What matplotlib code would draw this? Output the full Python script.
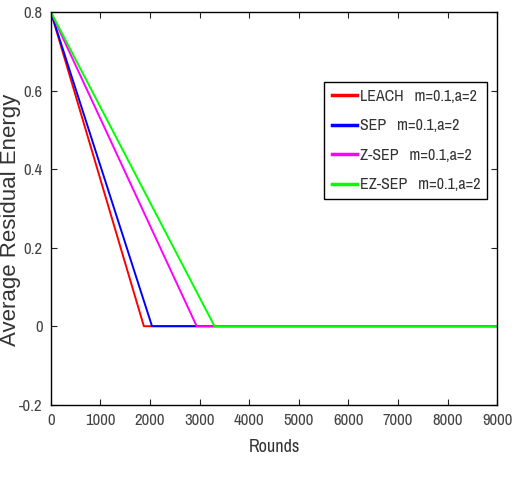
import matplotlib.pyplot as plt
import matplotlib.ticker as mticker

# data
rounds_leach = [0, 1875, 9000]
energy_leach = [0.8, 0.0, 0.0]
rounds_sep = [0, 2040, 9000]
energy_sep = [0.8, 0.0, 0.0]
rounds_zsep = [0, 2940, 9000]
energy_zsep = [0.8, 0.0, 0.0]
rounds_ezsep = [0, 3300, 9000]
energy_ezsep = [0.8, 0.0, 0.0]
labels = ['LEACH   m=0.1,a=2', 'SEP   m=0.1,a=2', 'Z-SEP   m=0.1,a=2', 'EZ-SEP   m=0.1,a=2']
colors = ['#ff0000', '#0000ff', '#ff00ff', '#00ff00']

narrow = ['Liberation Sans Narrow', 'Archivo Narrow', 'Liberation Sans', 'DejaVu Sans']
plt.rcParams['font.family'] = narrow

fig = plt.figure(figsize=(5.19, 4.79), dpi=100)
ax = fig.add_axes([0.098, 0.155, 0.86, 0.82])

ax.plot(rounds_leach, energy_leach, color=colors[0], lw=1.4, label=labels[0])
ax.plot(rounds_sep, energy_sep, color=colors[1], lw=1.4, label=labels[1])
ax.plot(rounds_zsep, energy_zsep, color=colors[2], lw=1.4, label=labels[2])
ax.plot(rounds_ezsep, energy_ezsep, color=colors[3], lw=1.4, label=labels[3])

ax.set_xlim(0, 9000)
ax.set_ylim(-0.2, 0.8)
ax.set_xticks(range(0, 9001, 1000))
ax.set_yticks([-0.2, 0, 0.2, 0.4, 0.6, 0.8])
ax.yaxis.set_major_formatter(mticker.FuncFormatter(lambda v, p: '0' if abs(v) < 1e-9 else '%g' % v))
ax.tick_params(direction='in', top=True, right=True, labelsize=12, color='#222222',
               labelcolor='#444444', length=4, pad=6)
for s in ax.spines.values():
    s.set_linewidth(1.0)

ax.set_xlabel('Rounds', fontsize=13, color='#333333', labelpad=8)
ax.set_ylabel('Average Residual Energy', fontsize=16, color='#333333',
              family=['Liberation Sans', 'DejaVu Sans'])
ax.yaxis.set_label_coords(-0.066, 0.47)

leg = ax.legend(loc='upper right', bbox_to_anchor=(0.978, 0.822), fontsize=11.5, fancybox=False,
                edgecolor='black', framealpha=1, handlelength=1.6, handletextpad=0.15,
                labelspacing=0.9, borderpad=0.45, borderaxespad=0)
for l in leg.get_lines():
    l.set_linewidth(2.5)
for t in leg.get_texts():
    t.set_color('#333333')
leg.get_frame().set_linewidth(1.0)

fig.savefig('out.png', dpi=100)
